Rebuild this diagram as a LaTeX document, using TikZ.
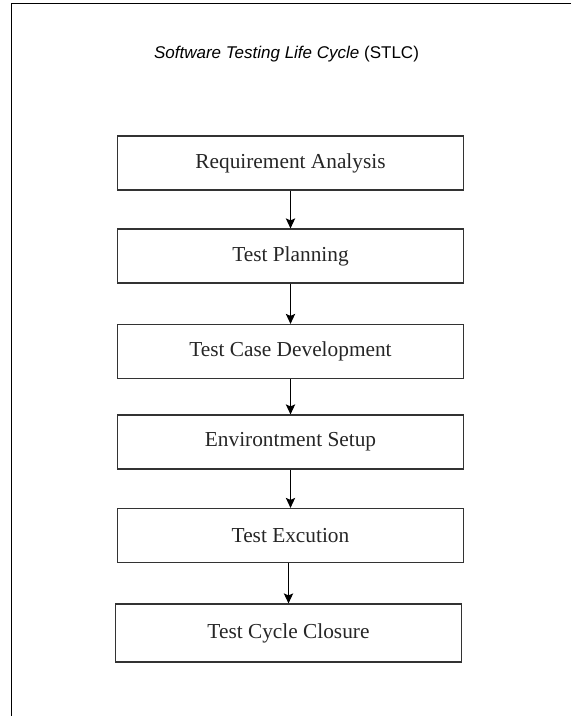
\documentclass[tikz,border=0pt]{standalone}
\usepackage{fontspec}
\setmainfont{Liberation Serif}
\setsansfont{Liberation Sans}
\usetikzlibrary{arrows.meta}
\tikzset{
  stage/.style={draw=black!80, line width=0.9pt, minimum width=260pt,
    minimum height=40.5pt, inner sep=0pt, text=black!85,
    font=\fontsize{16}{19}\selectfont},
  heading/.style={text=black, font=\sffamily\fontsize{12.75}{15}\selectfont},
}
\begin{document}
\begin{tikzpicture}[x=0.75pt,y=-0.75pt]
      \useasboundingbox (0,0) rectangle (571,716);
      \draw[line width=1.2pt] (571,3.5) -- (11.5,3.5) -- (11.5,716);
      \draw
        (286.5,54) node[heading] (title){\textit{Software Testing Life Cycle} (STLC)}
        (290.5,163) node[stage] (0){Requirement Analysis}
        (290.5,256) node[stage] (1){Test Planning}
        (290.5,351.5) node[stage] (2){Test Case Development}
        (290.5,442) node[stage] (3){Environtment Setup}
        (290.5,535.5) node[stage] (4){Test Excution}
        (288.5,633) node[stage, minimum height=43.5pt] (5){Test Cycle Closure};
      \begin{scope}[line width=0.9pt, -{Stealth[length=7.5pt, width=7pt, inset=1.5pt]}]
        \draw (0) to (1);
        \draw (1) to (2);
        \draw (2) to (3);
        \draw (3) to (4);
        \draw (4.south -| 5.north) to (5.north);
      \end{scope}
    \end{tikzpicture}
\end{document}
